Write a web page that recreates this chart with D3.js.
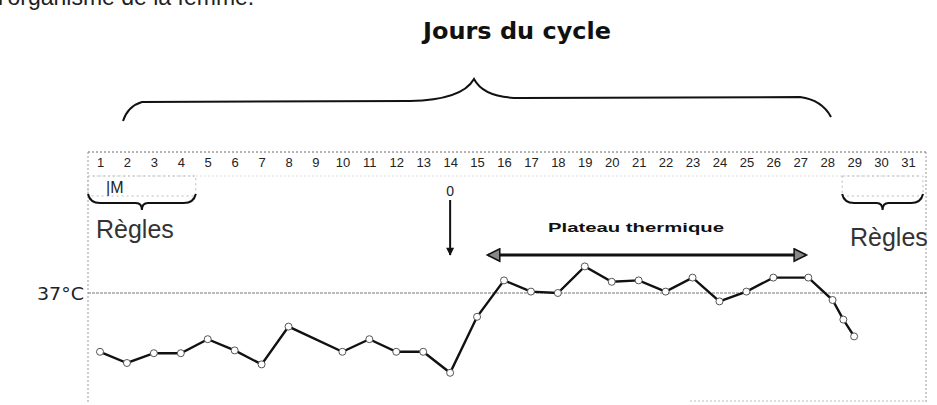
<html>
<head>
    <script src="https://d3js.org/d3.v7.min.js"></script>
    <style>body { margin: 0; background: #fff; }</style>
</head>
<body>
    <svg width="937" height="405"></svg>
    <script>
        // days of the cycle shown in the top row
        const jours = d3.range(1, 32)
        const joursMesure = [1, 2, 3, 4, 5, 6, 7, 8, 10, 11, 12, 13, 14, 15, 16, 17, 18, 19, 20, 21, 22, 23, 24, 25, 26, 27.3, 28.2, 28.6, 29]
        const temperatures = [36.58, 36.50, 36.57, 36.57, 36.67, 36.59, 36.49, 36.76, 36.58, 36.67, 36.58, 36.58, 36.43,
            36.83, 37.09, 37.01, 37.00, 37.19, 37.08, 37.09, 37.01, 37.11, 36.94, 37.01, 37.11, 37.11, 36.95, 36.81, 36.69]
        const seuil = 37
        const joursRegles1 = [1, 4]
        const joursRegles2 = [29, 31]
        const jourOvulation = 14
        const plateau = [15.5, 27.3]

        const svg = d3.select("svg")
        const FONT = "Liberation Sans, Arial, sans-serif"

        const x = d3.scaleLinear().domain([1, 31]).range([100, 908])
        const y = d3.scaleLinear().domain([36.3, 37.3]).range([391, 251])

        const defs = svg.append("defs")
        defs.append("marker")
            .attr("id", "down")
            .attr("viewBox", "0 0 10 10")
            .attr("refX", 9).attr("refY", 5)
            .attr("markerWidth", 5).attr("markerHeight", 4)
            .attr("orient", "auto")
            .append("path").attr("d", "M0,0 L10,5 L0,10 Z").attr("fill", "#111")
        defs.append("marker")
            .attr("id", "tri")
            .attr("viewBox", "0 0 12 12")
            .attr("refX", 10).attr("refY", 6)
            .attr("markerWidth", 5.5).attr("markerHeight", 5)
            .attr("markerUnits", "strokeWidth")
            .attr("orient", "auto-start-reverse")
            .append("path").attr("d", "M1,1 L11,6 L1,11 Z")
            .attr("fill", "#888").attr("stroke", "#111").attr("stroke-width", 1.2)

        // cut-off text from the page above
        svg.append("text")
            .attr("x", -2).attr("y", 5)
            .attr("font-family", FONT).attr("font-size", 23)
            .attr("fill", "#222")
            .text("l'organisme de la femme.")

        // Title
        svg.append("text")
            .attr("x", 517).attr("y", 39)
            .attr("text-anchor", "middle")
            .attr("font-family", "DejaVu Sans Condensed, sans-serif")
            .attr("font-weight", "bold").attr("font-size", 23)
            .attr("textLength", 188).attr("lengthAdjust", "spacingAndGlyphs")
            .attr("fill", "#111")
            .text("Jours du cycle")

        // big brace over the days
        svg.append("path")
            .attr("d", "M123,121 Q128,106 142,102 L410,101 Q462,100 474,79 Q484,98 520,98 L800,97 Q822,100 831,117")
            .attr("fill", "none").attr("stroke", "#111").attr("stroke-width", 2)

        // frame of the grid
        const frame = svg.append("g")
            .attr("stroke", "#999").attr("stroke-width", 1).attr("stroke-dasharray", "2,2").attr("fill", "none")
        frame.append("line").attr("x1", 88).attr("x2", 926).attr("y1", 152).attr("y2", 152).attr("stroke", "#666")
        frame.append("line").attr("x1", 88).attr("x2", 88).attr("y1", 152).attr("y2", 402)
        frame.append("line").attr("x1", 926).attr("x2", 926).attr("y1", 152).attr("y2", 402)
        frame.append("line").attr("x1", 690).attr("x2", 926).attr("y1", 401).attr("y2", 401).attr("stroke", "#bbb")
        frame.append("line").attr("x1", 92).attr("x2", 920).attr("y1", 176).attr("y2", 176).attr("stroke", "#ddd")

        // day numbers
        const axis = svg.append("g")
            .attr("transform", "translate(0,155)")
            .call(d3.axisBottom(x).tickValues(jours).tickSize(0).tickPadding(3).tickFormat(d3.format("d")))
        axis.select(".domain").remove()
        axis.selectAll("text")
            .attr("font-family", FONT).attr("font-size", 13)
            .attr("fill", "#222")

        // menstruation boxes and braces
        function regles(r, tx, ty) {
            const x0 = x(r[0]) - 12, x1 = x(r[1]) + 15, xm = (x0 + x1) / 2
            svg.append("rect")
                .attr("x", x0).attr("y", 176).attr("width", x1 - x0).attr("height", 20)
                .attr("fill", "none").attr("stroke", "#bbb").attr("stroke-dasharray", "2,3")
            svg.append("path")
                .attr("d", `M${x0},${194} Q${x0 + 2},${203} ${x0 + 12},${203} L${xm - 6},${203} Q${xm},${203} ${xm},${210} Q${xm},${203} ${xm + 6},${203} L${x1 - 12},${203} Q${x1 - 2},${203} ${x1},${194}`)
                .attr("fill", "none").attr("stroke", "#111").attr("stroke-width", 2)
            svg.append("text")
                .attr("x", tx).attr("y", ty)
                .attr("font-family", FONT).attr("font-size", 25)
                .attr("fill", "#333")
                .text("Règles")
        }
        regles(joursRegles1, 96, 238)
        regles(joursRegles2, 850, 246)

        svg.append("text")
            .attr("x", 106).attr("y", 193)
            .attr("font-family", FONT).attr("font-size", 16)
            .attr("fill", "#222")
            .text("|M")

        // ovulation marker
        svg.append("text")
            .attr("x", x(jourOvulation)).attr("y", 196)
            .attr("text-anchor", "middle")
            .attr("font-family", FONT).attr("font-size", 14)
            .attr("fill", "#222")
            .text("0")
        svg.append("line")
            .attr("x1", x(jourOvulation)).attr("x2", x(jourOvulation))
            .attr("y1", 200).attr("y2", 255)
            .attr("stroke", "#111").attr("stroke-width", 2)
            .attr("marker-end", "url(#down)")

        // thermal plateau
        svg.append("text")
            .attr("x", 636).attr("y", 232)
            .attr("text-anchor", "middle")
            .attr("font-family", FONT).attr("font-weight", "bold").attr("font-size", 13)
            .attr("textLength", 176).attr("lengthAdjust", "spacingAndGlyphs")
            .attr("fill", "#111")
            .text("Plateau thermique")
        svg.append("line")
            .attr("x1", x(plateau[0]) - 2).attr("x2", x(plateau[1]) - 3)
            .attr("y1", 255).attr("y2", 255)
            .attr("stroke", "#111").attr("stroke-width", 3)
            .attr("marker-start", "url(#tri)").attr("marker-end", "url(#tri)")

        // 37°C reference line
        svg.append("line")
            .attr("x1", 88).attr("x2", 926)
            .attr("y1", y(seuil)).attr("y2", y(seuil))
            .attr("stroke", "#777").attr("stroke-width", 1.2).attr("stroke-dasharray", "3,1")
        svg.append("text")
            .attr("x", 37).attr("y", y(seuil) + 7)
            .attr("font-family", "DejaVu Sans, sans-serif").attr("font-size", 17)
            .attr("textLength", 47).attr("lengthAdjust", "spacingAndGlyphs")
            .attr("fill", "#222")
            .text("37°C")

        // temperature curve
        const pts = joursMesure.map((d, i) => [d, temperatures[i]])
        svg.append("path")
            .datum(pts)
            .attr("d", d3.line().x(d => x(d[0])).y(d => y(d[1])))
            .attr("fill", "none").attr("stroke", "#111").attr("stroke-width", 2.4)
        svg.selectAll(".pt")
            .data(pts)
            .enter().append("circle")
            .attr("class", "pt")
            .attr("cx", d => x(d[0])).attr("cy", d => y(d[1]))
            .attr("r", 3.5)
            .attr("fill", "#fff").attr("stroke", "#555").attr("stroke-width", 1)
    </script>
</body>
</html>
